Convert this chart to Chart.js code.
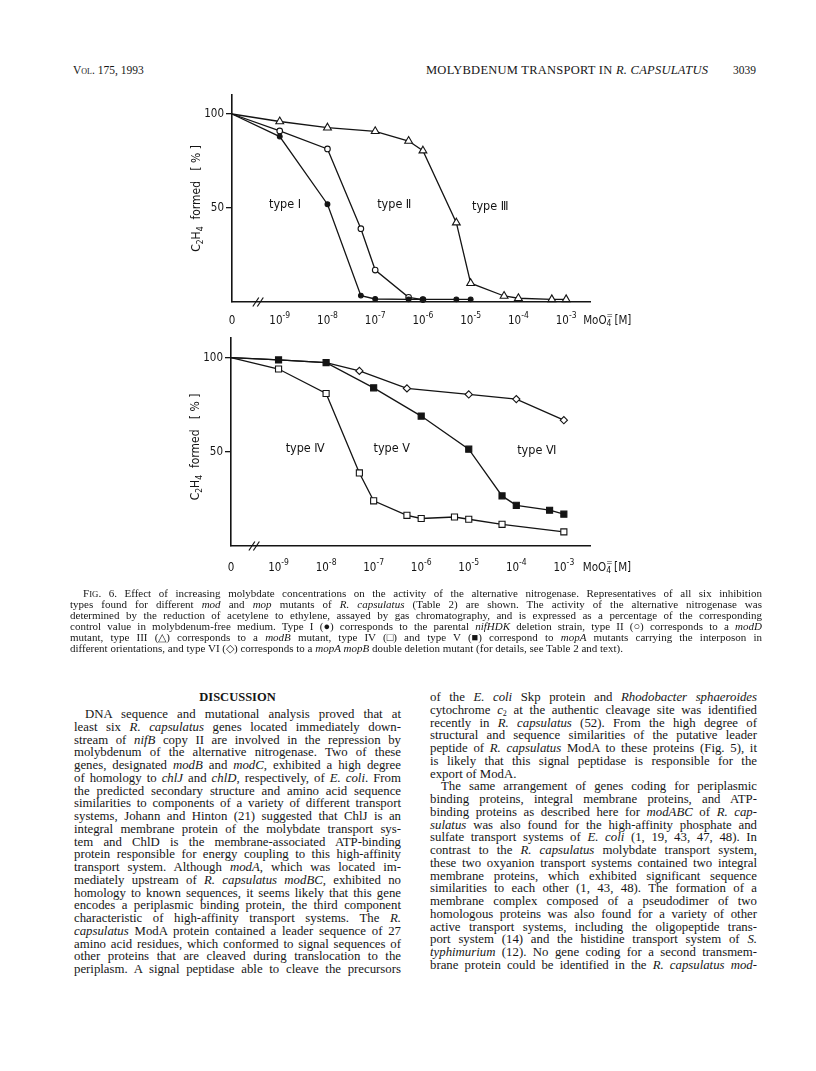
<!DOCTYPE html>
<html><head><meta charset="utf-8">
<script src="https://cdn.jsdelivr.net/npm/chart.js@4.4.0/dist/chart.umd.min.js"></script>
<style>
html,body{margin:0;padding:0;background:#fff;}
body{width:816px;height:1071px;position:relative;overflow:hidden;}
.t{position:absolute;font-family:'Liberation Serif','Times New Roman',serif;color:#161616;white-space:nowrap;}
canvas{position:absolute;left:0;}
.sub{font-size:8px;vertical-align:-2px;line-height:0;}
</style></head><body>
<canvas id="c1" width="816" height="255" style="top:80px;width:816px;height:255px"></canvas>
<canvas id="c2" width="816" height="262" style="top:328px;width:816px;height:262px"></canvas>
<script>
const INK = '#141414';
const SANS = "'DejaVu Sans Condensed','DejaVu Sans',sans-serif";

// ---------------- data ----------------
const xTickValues = [-10, -9, -8, -7, -6, -5, -4, -3];          // log10 [MoO4], -10 stands for "0"
const xTickLabels = ['0', '10^-9', '10^-8', '10^-7', '10^-6', '10^-5', '10^-4', '10^-3'];
const yTickValues = [50, 100];
const yTickLabels = ['50', '100'];

// top panel
const type1X = [-10, -9, -8, -7.3, -7, -6.3, -6, -5.3, -5];
const type1Y = [100, 88, 52, 3.4, 1.6, 1.4, 1.4, 1.4, 1.4];
const type2X = [-10, -9, -8, -7.3, -7, -6.3, -6];
const type2Y = [100, 91, 81.4, 39, 17, 2.5, 1.3];
const type3X = [-10, -9, -8, -7, -6.3, -6, -5.3, -5, -4.3, -4, -3.3, -3];
const type3Y = [100, 96, 92.7, 90.8, 85.6, 80.5, 42.2, 10, 3.2, 2, 1.4, 1.4];
// bottom panel
const type4X = [-10, -9, -8, -7.3, -7, -6.3, -6, -5.3, -5, -4.3, -3];
const type4Y = [100, 94, 81, 38.8, 24, 16.3, 14.6, 15.4, 14.2, 11.5, 7.5];
const type5X = [-10, -9, -8, -7, -6, -5, -4.3, -4, -3.3, -3];
const type5Y = [100, 98.8, 97.4, 84, 69, 51.4, 26.6, 21.6, 19, 16.9];
const type6X = [-10, -9, -8, -7.3, -6.3, -5, -4, -3];
const type6Y = [100, 98.8, 97.4, 93, 83.7, 80.5, 78, 66.8];

// curve labels (data units)
const labels1Text = ['type \u2160', 'type \u2161', 'type \u2162'];
const labels1X = [-8.89, -6.6, -4.59];
const labels1Y = [51.6, 51.6, 50.5];
const labels2Text = ['type \u2163', 'type \u2164', 'type \u2165'];
const labels2X = [-8.44, -6.62, -3.57];
const labels2Y = [51.4, 51.4, 50.8];

// ---------------- helpers ----------------
function pts(xs, ys) { return xs.map((x, i) => ({x: x, y: ys[i]})); }
function radii(xs, r, hidden) { return xs.map((x, i) => (x === -10 || (hidden && hidden.includes(i))) ? 0 : r); }

const figPlugin = {
  id: 'fig',
  afterDraw(chart, args, o) {
    const ctx = chart.ctx, ca = chart.chartArea;
    const xs = chart.scales.x, ys = chart.scales.y;
    ctx.save();
    ctx.fillStyle = INK; ctx.strokeStyle = INK;
    ctx.textBaseline = 'middle';
    // y tick labels
    ctx.font = '11.5px ' + SANS; ctx.textAlign = 'right';
    yTickValues.forEach((v, i) => ctx.fillText(yTickLabels[i], ca.left - 8, ys.getPixelForValue(v)));
    // x tick labels
    const ly = ca.bottom + o.labelDy;
    ctx.textAlign = 'left';
    xTickValues.forEach((v, i) => {
      const px = xs.getPixelForValue(v);
      const parts = xTickLabels[i].split('^');
      ctx.font = '11.5px ' + SANS; const wb = ctx.measureText(parts[0]).width;
      let we = 0;
      if (parts[1]) { ctx.font = '8.5px ' + SANS; we = ctx.measureText(parts[1]).width; }
      const x0 = px - (wb + we) / 2;
      ctx.font = '11.5px ' + SANS; ctx.fillText(parts[0], x0, ly);
      if (parts[1]) { ctx.font = '8.5px ' + SANS; ctx.fillText(parts[1], x0 + wb, ly - 5); }
    });
    // unit label
    let ux = xs.getPixelForValue(xTickValues[xTickValues.length - 1]) + o.unitDx;
    ctx.font = '11.5px ' + SANS; ctx.fillText('MoO', ux, ly); ux += ctx.measureText('MoO').width;
    ctx.font = '8.5px ' + SANS; ctx.fillText('4', ux, ly + 3); ctx.fillText('=', ux, ly - 5);
    ux += ctx.measureText('4').width + 3;
    ctx.font = '11.5px ' + SANS; ctx.fillText('[M]', ux, ly);
    // axis break
    const bx = xs.getPixelForValue(o.breakX), by = ca.bottom;
    ctx.lineWidth = 1.2;
    [0, 4.5].forEach(d => { ctx.beginPath(); ctx.moveTo(bx - 4 + d, by + 4.5); ctx.lineTo(bx + 2 + d, by - 4.5); ctx.stroke(); });
    // curve labels
    ctx.font = '12.5px ' + SANS; ctx.textAlign = 'center';
    o.texts.forEach((t, i) => ctx.fillText(t, xs.getPixelForValue(o.tx[i]), ys.getPixelForValue(o.ty[i])));
    // y-axis title
    ctx.translate(ca.left - 35, (ca.top + ca.bottom) / 2 + o.titleDy);
    ctx.rotate(-Math.PI / 2);
    const segs = [['C', 0], ['2', 1], ['H', 0], ['4', 1], ['  formed', 0], ['   [ % ]', 0]];
    let tw = 0;
    segs.forEach(s => { ctx.font = (s[1] ? '8.5px ' : '12px ') + SANS; tw += ctx.measureText(s[0]).width; });
    let tx = -tw / 2;
    ctx.textAlign = 'left';
    segs.forEach(s => {
      ctx.font = (s[1] ? '8.5px ' : '12px ') + SANS;
      ctx.fillText(s[0], tx, s[1] ? 3.5 : 0);
      tx += ctx.measureText(s[0]).width;
    });
    ctx.restore();
  }
};

function lineDs(xs, ys, style, r, fill, hidden) {
  return {
    data: pts(xs, ys), borderColor: INK, borderWidth: 1.3, tension: 0, fill: false, clip: false,
    pointStyle: style, pointRadius: radii(xs, r, hidden), pointHoverRadius: radii(xs, r, hidden),
    pointBackgroundColor: fill ? INK : '#fff', pointBorderColor: INK, pointBorderWidth: 1.1
  };
}

function makeChart(id, datasets, g) {
  return new Chart(document.getElementById(id), {
    type: 'line',
    data: {datasets: datasets},
    options: {
      responsive: false, animation: false, devicePixelRatio: 1,
      events: [],
      layout: {padding: {top: g.top, left: 0, right: g.right, bottom: 0}},
      plugins: {legend: {display: false}, tooltip: {enabled: false}, fig: g.fig},
      scales: {
        x: {
          type: 'linear', min: -10, max: g.xmax,
          afterBuildTicks: s => { s.ticks = xTickValues.map(v => ({value: v})); },
          afterFit: s => { s.height = g.xh; },
          ticks: {display: false},
          grid: {display: false, drawTicks: false},
          border: {display: true, color: INK, width: 1.6}
        },
        y: {
          type: 'linear', min: 0, max: g.ymax,
          afterBuildTicks: s => { s.ticks = yTickValues.map(v => ({value: v})); },
          afterFit: s => { s.width = g.yw; },
          ticks: {display: false},
          grid: {display: true, drawOnChartArea: false, drawTicks: true, tickLength: 6, color: INK, lineWidth: 1.3},
          border: {display: true, color: INK, width: 1.6}
        }
      }
    },
    plugins: [figPlugin]
  });
}

makeChart('c1', [
  lineDs(type1X, type1Y, 'circle', 2.4, true),
  lineDs(type2X, type2Y, 'circle', 2.8, false),
  lineDs(type3X, type3Y, 'triangle', 4.5, false)
], {top: 15, right: 226, xh: 33, yw: 232, xmax: -2.5, ymax: 110.1,
    fig: {labelDy: 19, unitDx: 17, breakX: -9.48, titleDy: 0, texts: labels1Text, tx: labels1X, ty: labels1Y}});

makeChart('c2', [
  lineDs(type5X, type5Y, 'rect', 4.3, true),
  lineDs(type4X, type4Y, 'rect', 4.3, false),
  lineDs(type6X, type6Y, 'rectRot', 3.6, false, [1, 2])
], {top: 10, right: 226, xh: 44, yw: 231, xmax: -2.45, ymax: 110.46,
    fig: {labelDy: 22, unitDx: 19, breakX: -9.54, titleDy: 5, texts: labels2Text, tx: labels2X, ty: labels2Y}});

// ---------------- page text ----------------
function place(html, x, y, w, o) {
  const d = document.createElement('div');
  d.className = 't';
  d.style.fontSize = o.size + 'px';
  d.style.lineHeight = o.lh + 'px';
  if (o.weight) d.style.fontWeight = o.weight;
  if (o.variant) d.style.fontVariant = o.variant;
  d.innerHTML = html;
  d.style.left = x + 'px';
  d.style.top = (y - o.lh / 2) + 'px';
  document.body.appendChild(d);
  const nat = d.getBoundingClientRect().width;
  if (o.justify) {
    const n = (d.textContent.match(/ /g) || []).length;
    if (n) d.style.wordSpacing = ((w - nat) / n) + 'px';
  } else if (o.fit) {
    const n = d.textContent.length - 1;
    d.style.letterSpacing = ((w - nat) / n) + 'px';
  } else if (o.align === 'center') {
    d.style.left = (x + (w - nat) / 2) + 'px';
  } else if (o.align === 'right') {
    d.style.left = (x + w - nat) + 'px';
  }
  return d;
}

// running head
place('Vol. 175, 1993', 73, 70, 0, {size: 11.5, lh: 14, variant: 'small-caps'});
place('MOLYBDENUM TRANSPORT IN <i>R. CAPSULATUS</i>', 426, 70, 282, {size: 12.5, lh: 14, fit: true});
place('3039', 700, 70, 56, {size: 11.5, lh: 14, align: 'right'});

// caption
const capLines = [
  'F<span style="font-size:8.8px">IG</span>. 6. Effect of increasing molybdate concentrations on the activity of the alternative nitrogenase. Representatives of all six inhibition',
  'types found for different <i>mod</i> and <i>mop</i> mutants of <i>R. capsulatus</i> (Table 2) are shown. The activity of the alternative nitrogenase was',
  'determined by the reduction of acetylene to ethylene, assayed by gas chromatography, and is expressed as a percentage of the corresponding',
  'control value in molybdenum-free medium. Type I (\u25CF) corresponds to the parental <i>nifHDK</i> deletion strain, type II (\u25CB) corresponds to a <i>modD</i>',
  'mutant, type III (\u25B3) corresponds to a <i>modB</i> mutant, type IV (\u25A1) and type V (\u25A0) correspond to <i>mopA</i> mutants carrying the interposon in',
  'different orientations, and type VI (\u25C7) corresponds to a <i>mopA mopB</i> double deletion mutant (for details, see Table 2 and text).'
];
capLines.forEach((l, i) => {
  const ind = i === 0 ? 13 : 0;
  place(l, 70 + ind, 593 + 11 * i, 692 - ind, {size: 11, lh: 12, justify: i < capLines.length - 1});
});

// left column
place('DISCUSSION', 74, 697, 327, {size: 12.5, lh: 14, weight: 'bold', align: 'center'});
const leftLines = [
  'DNA sequence and mutational analysis proved that at',
  'least six <i>R. capsulatus</i> genes located immediately down-',
  'stream of <i>nifB</i> copy II are involved in the repression by',
  'molybdenum of the alternative nitrogenase. Two of these',
  'genes, designated <i>modB</i> and <i>modC</i>, exhibited a high degree',
  'of homology to <i>chlJ</i> and <i>chlD</i>, respectively, of <i>E. coli</i>. From',
  'the predicted secondary structure and amino acid sequence',
  'similarities to components of a variety of different transport',
  'systems, Johann and Hinton (21) suggested that ChlJ is an',
  'integral membrane protein of the molybdate transport sys-',
  'tem and ChlD is the membrane-associated ATP-binding',
  'protein responsible for energy coupling to this high-affinity',
  'transport system. Although <i>modA</i>, which was located im-',
  'mediately upstream of <i>R. capsulatus modBC</i>, exhibited no',
  'homology to known sequences, it seems likely that this gene',
  'encodes a periplasmic binding protein, the third component',
  'characteristic of high-affinity transport systems. The <i>R.</i>',
  '<i>capsulatus</i> ModA protein contained a leader sequence of 27',
  'amino acid residues, which conformed to signal sequences of',
  'other proteins that are cleaved during translocation to the',
  'periplasm. A signal peptidase able to cleave the precursors'
];
leftLines.forEach((l, i) => {
  const ind = i === 0 ? 11 : 0;
  place(l, 74 + ind, 714 + 12.75 * i, 327 - ind, {size: 12.8, lh: 14, justify: true});
});

// right column
const rightLines = [
  'of the <i>E. coli</i> Skp protein and <i>Rhodobacter sphaeroides</i>',
  'cytochrome <i>c</i><span class="sub">2</span> at the authentic cleavage site was identified',
  'recently in <i>R. capsulatus</i> (52). From the high degree of',
  'structural and sequence similarities of the putative leader',
  'peptide of <i>R. capsulatus</i> ModA to these proteins (Fig. 5), it',
  'is likely that this signal peptidase is responsible for the',
  'export of ModA.',
  'The same arrangement of genes coding for periplasmic',
  'binding proteins, integral membrane proteins, and ATP-',
  'binding proteins as described here for <i>modABC</i> of <i>R. cap-</i>',
  '<i>sulatus</i> was also found for the high-affinity phosphate and',
  'sulfate transport systems of <i>E. coli</i> (1, 19, 43, 47, 48). In',
  'contrast to the <i>R. capsulatus</i> molybdate transport system,',
  'these two oxyanion transport systems contained two integral',
  'membrane proteins, which exhibited significant sequence',
  'similarities to each other (1, 43, 48). The formation of a',
  'membrane complex composed of a pseudodimer of two',
  'homologous proteins was also found for a variety of other',
  'active transport systems, including the oligopeptide trans-',
  'port system (14) and the histidine transport system of <i>S.</i>',
  '<i>typhimurium</i> (12). No gene coding for a second transmem-',
  'brane protein could be identified in the <i>R. capsulatus mod-</i>'
];
rightLines.forEach((l, i) => {
  const ind = i === 7 ? 11 : 0;
  place(l, 430 + ind, 697 + 12.75 * i, 327 - ind, {size: 12.8, lh: 14, justify: i !== 6});
});
</script>
</body></html>
